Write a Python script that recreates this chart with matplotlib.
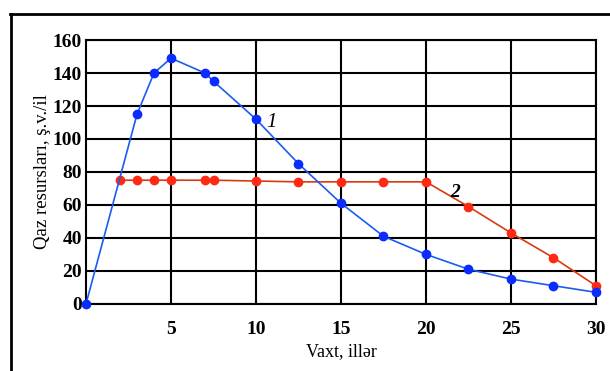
import numpy as np
import matplotlib.pyplot as plt
from matplotlib.lines import Line2D

plt.rcParams['font.family'] = ['Liberation Serif', 'DejaVu Serif']

# curve 1 (blue)
years_1 = [0, 3, 4, 5, 7, 7.5, 10, 12.5, 15, 17.5, 20, 22.5, 25, 27.5, 30]
gas_1 = [0, 115, 140, 149, 140, 135, 112, 85, 61, 41, 30, 21, 15, 11, 7]

# curve 2 (red)
years_2 = [2, 3, 4, 5, 7, 7.5, 10, 12.5, 15, 17.5, 20, 22.5, 25, 27.5, 30]
gas_2 = [75, 75, 75, 75, 75, 75, 74.5, 74, 74, 74, 74, 59, 43, 28, 11]

x_ticks = [5, 10, 15, 20, 25, 30]
y_ticks = list(range(0, 161, 20))

fig = plt.figure(figsize=(6.1, 3.71), dpi=100)
ax = fig.add_axes([0.141, 0.181, 0.836, 0.711])

ax.plot(years_1, gas_1, color='#1a5cf0', lw=1.2, marker='o', ms=6,
        mfc='#0a2cff', mec='#0a2cff', zorder=4, clip_on=False)
ax.plot(years_2, gas_2, color='#d83a10', lw=1.2, marker='o', ms=6,
        mfc='#ff2a14', mec='#ff2a14', zorder=3, clip_on=False)

ax.text(10.6, 107, '1', fontsize=15, style='italic')
ax.text(21.4, 65, '2', fontsize=14, style='italic', fontweight='bold')

ax.set_xlim(0, 30)
ax.set_ylim(0, 160)
ax.set_xticks(x_ticks)
ax.set_yticks(y_ticks)
ax.grid(True, color='black', lw=1.5)
ax.set_axisbelow(True)
ax.tick_params(length=0, labelsize=14)
ax.tick_params(axis='x', pad=12)
ax.tick_params(axis='y', pad=3)
for lab in ax.get_xticklabels() + ax.get_yticklabels():
    lab.set_fontweight('bold')
for s in ax.spines.values():
    s.set_linewidth(1.5)

ax.set_xlabel('Vaxt, illər', fontsize=13, labelpad=4)
ax.set_ylabel('Qaz resursları, ş.v./il', fontsize=13.5, labelpad=1)

# outer frame (left and top edge)
fig.add_artist(Line2D([0.018, 0.018], [0.0, 0.962], color='black', lw=2))
fig.add_artist(Line2D([0.017, 1.0], [0.962, 0.962], color='black', lw=2))

fig.savefig('out.png', dpi=100)
